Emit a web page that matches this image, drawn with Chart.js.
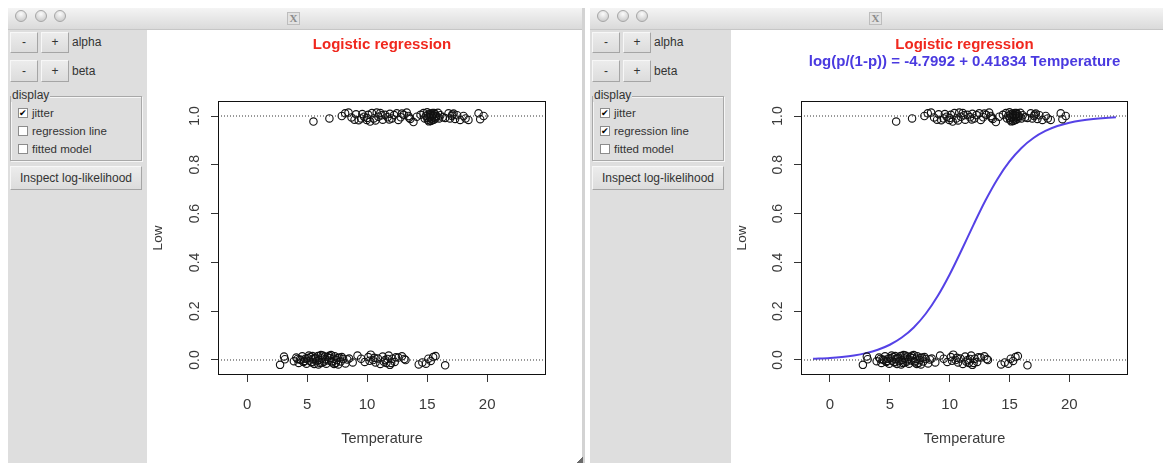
<!DOCTYPE html>
<html>
<head>
<meta charset="utf-8">
<title>Logistic regression</title>
<script src="https://cdn.jsdelivr.net/npm/chart.js@4.4.1/dist/chart.umd.min.js"></script>
<style>
  body { margin: 0; width: 1163px; height: 463px; background: #fff; position: relative; overflow: hidden;
         font-family: 'Liberation Sans', Arial, sans-serif; color: #1a1a1a; }
  .win { position: absolute; top: 8px; height: 455px; background: #dedede; }
  .tbar { position: absolute; left: 0; top: 0; right: 0; height: 22px; box-sizing: border-box;
          background: linear-gradient(#f4f4f4, #dadada); border-bottom: 1px solid #c6c6c6; }
  .light { position: absolute; top: 2px; width: 12px; height: 12px; border-radius: 50%; box-sizing: border-box;
           border: 1px solid #a6a6a6; background: radial-gradient(circle at 50% 30%, #fbfbfb, #d0d0d0 75%); }
  .xicon { position: absolute; left: 279px; top: 4px; width: 13px; height: 13px; box-sizing: border-box;
           border: 1px solid #bdbdbd; background: #e2e2e2; font: bold 11px 'Liberation Serif', serif;
           color: #8a8a8a; text-align: center; line-height: 11px; }
  .btn { position: absolute; box-sizing: border-box; background: linear-gradient(#ececec, #dcdcdc);
         border: 1px solid; border-color: #f7f7f7 #a5a5a5 #a5a5a5 #f7f7f7; font-size: 12px; text-align: center; color: #333; }
  .lbl { position: absolute; font-size: 12px; color: #333; }
  .group { position: absolute; box-sizing: border-box; border: 1px solid #a8a8a8;
           box-shadow: inset 1px 1px 0 #f6f6f6, 1px 1px 0 #f6f6f6; }
  .legend { position: absolute; font-size: 12px; background: #dedede; padding: 0 1px; line-height: 14px; color: #333; }
  .cb { position: absolute; width: 10px; height: 10px; box-sizing: border-box; background: #fff;
        border: 1px solid #8c8c8c; font-size: 9px; line-height: 8px; text-align: center; color: #000; }
  .cbl { position: absolute; font-size: 11.5px; line-height: 14px; color: #333; }
  .plot { position: absolute; top: 22px; bottom: 0; background: #fff; }
  .grip { position: absolute; left: 577px; top: 457px; width: 6px; height: 6px;
          background: linear-gradient(135deg, transparent 50%, #6a6a6a 50%); }
  canvas { position: absolute; top: 30px; }
</style>
</head>
<body>
<canvas id="leftChart" width="435" height="433" style="left:147px"></canvas>
<canvas id="rightChart" width="432" height="433" style="left:731px"></canvas>
<script>
// axis ticks and ranges
const xTicks = [0, 5, 10, 15, 20];
const yTicks = [0, 0.2, 0.4, 0.6, 0.8, 1.0];
const xRange = [-2.42, 24.9];
const yRange = [-0.0615, 1.0615];
const refLevels = [0, 1];

// Low = 1 (jittered)
const highTemp = [5.53, 6.86, 7.89, 8.17, 8.45, 8.7, 9.08, 9.3, 9.5, 9.75,
  9.97, 10.1, 10.25, 10.4, 10.55, 10.8, 10.94, 11.1, 11.3, 11.5,
  11.7, 11.9, 12.06, 12.25, 12.47, 12.6, 12.8, 13.05, 13.3, 13.44,
  13.6, 13.86, 14.14, 14.45, 14.7, 14.8, 14.9, 15.0, 15.05, 15.1,
  15.15, 15.2, 15.25, 15.3, 15.35, 15.4, 15.45, 15.5, 15.55, 15.6,
  15.65, 15.7, 15.8, 15.9, 16.0, 16.1, 16.3, 16.78, 16.9, 17.06,
  17.2, 17.33, 17.5, 17.75, 18.03, 18.2, 18.44, 19.28, 19.42, 19.7,
  8.95, 9.6, 10.0, 10.7, 11.2, 11.85, 12.9, 13.5, 15.02, 15.28,
  15.42, 15.58, 15.75, 16.5, 17.1];
const highLow = [0.977, 0.990, 1.000, 1.011, 1.014, 0.994, 1.007, 0.983, 0.990, 0.997,
  0.984, 1.005, 0.977, 1.012, 0.990, 1.014, 0.997, 1.012, 0.985, 1.005,
  0.995, 1.009, 0.990, 1.004, 1.011, 0.984, 0.995, 1.005, 1.014, 1.000,
  0.988, 0.975, 0.997, 1.005, 1.012, 0.990, 1.001, 1.015, 0.985, 1.006,
  0.978, 0.995, 1.010, 0.980, 1.000, 0.990, 1.012, 1.003, 0.985, 0.997,
  1.008, 0.990, 1.000, 1.013, 0.990, 1.003, 0.995, 1.011, 0.990, 1.000,
  1.010, 0.988, 1.003, 0.984, 1.000, 0.990, 0.984, 1.011, 0.987, 1.000,
  0.985, 1.008, 0.992, 0.982, 1.003, 0.986, 1.010, 0.993, 0.993, 1.004,
  0.983, 1.012, 0.998, 0.992, 1.006];

// Low = 0 (jittered)
const lowTemp = [2.75, 3.08, 3.15, 3.9, 4.1, 4.3, 4.4, 4.6, 4.7, 4.85,
  4.95, 5.05, 5.2, 5.3, 5.4, 5.5, 5.6, 5.7, 5.8, 5.9,
  6.0, 6.1, 6.2, 6.3, 6.4, 6.5, 6.6, 6.7, 6.8, 6.9,
  7.0, 7.1, 7.2, 7.3, 7.4, 7.5, 7.6, 7.7, 7.8, 8.0,
  8.2, 8.5, 8.8, 9.2, 9.5, 9.8, 10.1, 10.3, 10.5, 10.7,
  10.9, 11.1, 11.3, 11.5, 11.6, 11.8, 11.9, 12.1, 12.3, 12.6,
  12.9, 13.1, 14.3, 14.6, 14.9, 15.1, 15.3, 15.5, 15.7, 16.5,
  4.5, 5.15, 5.95, 6.45, 7.25, 7.9, 6.15, 5.45, 4.2, 4.75,
  5.35, 5.65, 6.25, 6.85, 7.05, 7.55, 8.35, 10.2, 10.6, 11.4,
  11.7, 12.0, 12.4, 13.2];
const lowLow = [-0.020, 0.014, 0.003, -0.005, 0.010, -0.012, 0.002, 0.015, -0.008, 0.005,
  -0.015, 0.008, -0.003, 0.012, -0.010, 0.004, -0.016, 0.010, -0.005, 0.016,
  0.000, -0.012, 0.007, 0.018, -0.007, 0.003, -0.015, 0.012, -0.002, 0.008,
  0.020, -0.010, 0.005, 0.015, -0.012, 0.000, -0.018, 0.010, -0.006, 0.004,
  -0.014, 0.006, -0.010, 0.018, 0.005, -0.008, 0.012, 0.022, 0.000, -0.010,
  0.006, -0.016, 0.014, 0.000, -0.012, 0.018, -0.020, 0.005, -0.008, 0.010,
  0.015, 0.004, -0.018, -0.010, -0.015, 0.005, -0.004, 0.012, 0.016, -0.022,
  0.000, 0.018, -0.018, 0.014, -0.016, 0.012, 0.020, 0.016, 0.004, -0.004,
  -0.008, 0.006, -0.010, 0.017, -0.005, 0.008, 0.002, -0.003, 0.009, -0.007,
  0.004, -0.012, 0.011, 0.000];

// fitted regression line
const fitTemp = [-1.41, 0, 1, 2, 3, 4, 5, 6, 7, 8, 9, 10, 11, 12,
  13, 14, 15, 16, 17, 18, 19, 20, 21, 22, 23, 23.89];
const fitProb = [0.0046, 0.0082, 0.0124, 0.0187, 0.0281, 0.0420, 0.0625, 0.0920, 0.1334, 0.1896,
  0.2623, 0.3507, 0.4509, 0.5550, 0.6546, 0.7422, 0.8139, 0.8692, 0.9099, 0.9388,
  0.9589, 0.9725, 0.9818, 0.9879, 0.9920, 0.9945];

const titleText = 'Logistic regression';
const modelText = 'log(p/(1-p)) = -4.7992 + 0.41834 Temperature';

Chart.defaults.font.family = "'Liberation Sans', Arial, sans-serif";
Chart.defaults.animation = false;

function buildWindow(left, width, plotLeft, plotWidth, checks) {
  const win = document.createElement('div');
  win.className = 'win';
  win.style.left = left + 'px';
  win.style.width = width + 'px';
  if (plotWidth) win.style.borderRight = '3px solid #d3d3d3';
  const names = ['jitter', 'regression line', 'fitted model'];
  let boxes = '';
  names.forEach((n, i) => {
    const top = 100 + i * 18;
    boxes += '<div class="cb" style="left:10px;top:' + top + 'px">' + (checks[i] ? '&#10004;' : '') + '</div>' +
             '<div class="cbl" style="left:24px;top:' + (top - 2) + 'px">' + n + '</div>';
  });
  win.innerHTML =
    '<div class="tbar"><div class="light" style="left:7px"></div><div class="light" style="left:27px"></div>' +
    '<div class="light" style="left:46px"></div><div class="xicon">X</div></div>' +
    '<div class="btn" style="left:2px;top:24px;width:28px;height:21px;line-height:19px">-</div>' +
    '<div class="btn" style="left:33px;top:24px;width:28px;height:21px;line-height:19px">+</div>' +
    '<div class="lbl" style="left:64px;top:24px;line-height:21px">alpha</div>' +
    '<div class="btn" style="left:2px;top:52px;width:28px;height:22px;line-height:20px">-</div>' +
    '<div class="btn" style="left:33px;top:52px;width:28px;height:22px;line-height:20px">+</div>' +
    '<div class="lbl" style="left:64px;top:52px;line-height:22px">beta</div>' +
    '<div class="group" style="left:2px;top:88px;width:132px;height:65px"></div>' +
    '<div class="legend" style="left:3px;top:80px">display</div>' + boxes +
    '<div class="btn" style="left:2px;top:158px;width:132px;height:24px;line-height:22px">Inspect log-likelihood</div>' +
    '<div class="plot" style="left:' + plotLeft + 'px;' + (plotWidth ? 'width:' + plotWidth + 'px' : 'right:0') + '"></div>';
  document.body.insertBefore(win, document.body.firstChild);
}

buildWindow(8, 574, 139, 435, [true, false, false]);
buildWindow(590, 573, 141, 0, [true, true, false]);
const grip = document.createElement('div');
grip.className = 'grip';
document.body.appendChild(grip);

function pairs(xs, ys) {
  return xs.map((x, i) => ({x: x, y: ys[i]}));
}

function makeDatasets(withFit) {
  const sets = refLevels.map(v => ({
    type: 'line',
    data: [{x: xRange[0], y: v}, {x: xRange[1], y: v}],
    borderColor: '#333', borderWidth: 1, borderDash: [1, 2],
    pointRadius: 0, fill: false
  }));
  sets.push({
    type: 'scatter',
    data: pairs(highTemp, highLow).concat(pairs(lowTemp, lowLow)),
    pointStyle: 'circle', pointRadius: 3.7, borderWidth: 1.1,
    borderColor: '#111', backgroundColor: 'rgba(0,0,0,0)'
  });
  if (withFit) {
    sets.push({
      type: 'line',
      data: pairs(fitTemp, fitProb),
      borderColor: '#5542e6', borderWidth: 2, pointRadius: 0,
      cubicInterpolationMode: 'monotone', fill: false
    });
  }
  return sets;
}

const boxPlugin = {
  id: 'box',
  afterDraw(chart) {
    const a = chart.chartArea;
    const ctx = chart.ctx;
    ctx.save();
    ctx.strokeStyle = '#111';
    ctx.lineWidth = 1;
    ctx.strokeRect(a.left + 0.5, a.top + 0.5, a.right - a.left - 1, a.bottom - a.top - 1);
    ctx.restore();
  }
};

function makeChart(id, withFit, yWidth, rightPad) {
  const tickGrid = {drawOnChartArea: false, drawTicks: true, tickLength: 7, color: '#333', tickColor: '#333'};
  new Chart(document.getElementById(id), {
    type: 'scatter',
    data: {datasets: makeDatasets(withFit)},
    plugins: [boxPlugin],
    options: {
      responsive: false,
      devicePixelRatio: 1,
      layout: {padding: {left: 0, right: rightPad, top: 0, bottom: 0}},
      scales: {
        x: {
          type: 'linear', min: xRange[0], max: xRange[1],
          afterBuildTicks: s => { s.ticks = xTicks.map(v => ({value: v})); },
          afterFit: s => { s.height = 88; },
          grid: tickGrid,
          border: {display: false},
          ticks: {padding: 14, color: '#3a3a3a', font: {size: 15}, autoSkip: false, maxRotation: 0,
                  callback: v => String(v)},
          title: {display: true, text: 'Temperature', color: '#3a3a3a', font: {size: 14.5},
                  padding: {top: 0, bottom: 15}}
        },
        y: {
          type: 'linear', min: yRange[0], max: yRange[1],
          afterBuildTicks: s => { s.ticks = yTicks.map(v => ({value: v})); },
          afterFit: s => { s.width = yWidth; },
          grid: tickGrid,
          border: {display: false},
          ticks: {padding: 6, color: '#3a3a3a', font: {size: 14}, autoSkip: false,
                  minRotation: 90, maxRotation: 90, crossAlign: 'center',
                  callback: v => v.toFixed(1)},
          title: {display: true, text: 'Low', color: '#3a3a3a', font: {size: 13.5},
                  padding: {top: 3, bottom: 0}}
        }
      },
      plugins: {
        legend: {display: false},
        tooltip: {enabled: false},
        title: {
          display: true, text: titleText, color: '#f0281e', fullSize: false,
          font: {size: 15, weight: 'bold', lineHeight: 1.1},
          padding: {top: 7, bottom: withFit ? 0 : 47.5}
        },
        subtitle: {
          display: withFit, text: modelText, color: '#4a3ae0', fullSize: false,
          font: {size: 15, weight: 'bold', lineHeight: 1.1},
          padding: {top: 0, bottom: 31}
        }
      }
    }
  });
}

makeChart('leftChart', false, 71, 36);
makeChart('rightChart', true, 70, 35);
</script>
</body>
</html>
